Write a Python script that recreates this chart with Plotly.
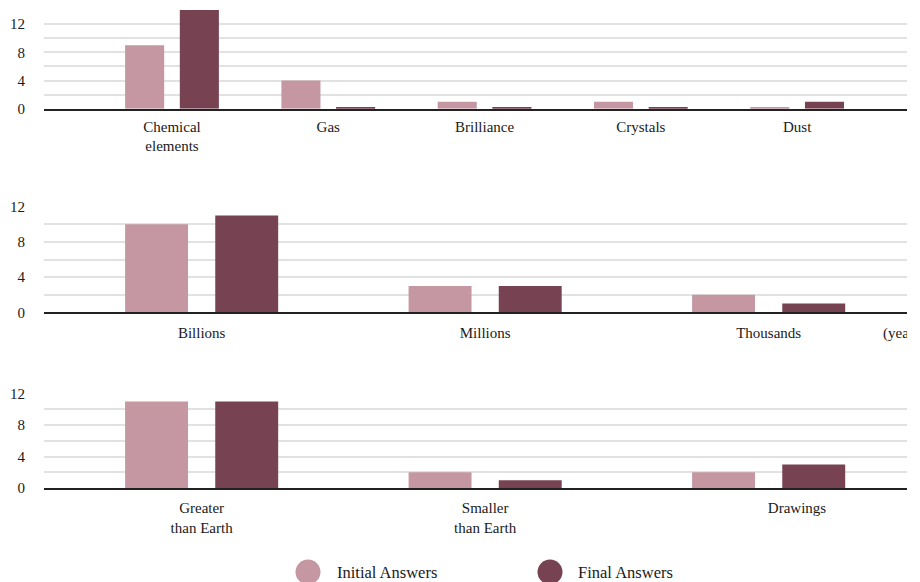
import plotly.graph_objects as go

# ---------------- data ----------------
series_names = ["Initial Answers", "Final Answers"]

composition_categories = ["Chemical\nelements", "Gas", "Brilliance", "Crystals", "Dust"]
composition_initial = [9, 4, 1, 1, 0.2]
composition_final = [14, 0.2, 0.2, 0.2, 1]

age_categories = ["Billions", "Millions", "Thousands"]
age_initial = [10, 3, 2]
age_final = [11, 3, 1]
age_unit_label = "(years)"

size_categories = ["Greater\nthan Earth", "Smaller\nthan Earth", "Drawings"]
size_initial = [11, 2, 2]
size_final = [11, 1, 3]

y_tick_step = 4
y_grid_step = 2

# ---------------- styling ----------------
C_INIT = "#C497A3"
C_FINAL = "#774353"
FONT = "Liberation Serif"
TXT = "#1a1a1a"
GRID = "#e2e2e2"

W, H = 907, 582
ML = 44
PW = W - ML


def py(p):
    return 1 - p / H


def pxx(p):
    return (p - ML) / PW


fig = go.Figure()

panels = [
    dict(cats=composition_categories, ini=composition_initial, fin=composition_final,
         xr=[-0.819, 4.703], yr=[0, 14], dom=[py(108.7), py(10)], width=0.25,
         offs=(-0.30, 0.05), shift=[0] * 5, stand=3),
    dict(cats=age_categories, ini=age_initial, fin=age_final,
         xr=[-0.556, 2.488], yr=[0, 12], dom=[py(312.3), py(206.7)], width=0.222,
         offs=(-0.27, 0.048), shift=[0, 0, 0], stand=6),
    dict(cats=size_categories, ini=size_initial, fin=size_final,
         xr=[-0.556, 2.488], yr=[0, 12], dom=[py(488), py(393.7)], width=0.222,
         offs=(-0.27, 0.048), shift=[0, 0, 0.1], stand=5),
]

for i, p in enumerate(panels):
    n = "" if i == 0 else str(i + 1)
    xs = list(range(len(p["cats"])))
    for vals, col, off, name in [(p["ini"], C_INIT, p["offs"][0], series_names[0]),
                                 (p["fin"], C_FINAL, p["offs"][1], series_names[1])]:
        fig.add_trace(go.Bar(x=xs, y=vals, name=name, marker=dict(color=col, line=dict(width=0)),
                             width=p["width"], offset=off, showlegend=False,
                             xaxis="x" + n, yaxis="y" + n))
    fig.update_layout(**{
        "xaxis" + n: dict(domain=[0, 1], anchor="y" + n, range=p["xr"],
                          tickvals=[x + s for x, s in zip(xs, p["shift"])],
                          ticktext=[c.replace("\n", "<br>") for c in p["cats"]],
                          showgrid=False, zeroline=False, showline=True,
                          linecolor="#222222", linewidth=2, ticks="",
                          ticklabelstandoff=p["stand"], automargin=False,
                          tickfont=dict(family=FONT, size=15, color=TXT)),
        "yaxis" + n: dict(domain=p["dom"], anchor="x" + n, range=p["yr"],
                          dtick=y_tick_step, tick0=0, showgrid=True, gridcolor=GRID,
                          gridwidth=1.5, zeroline=False, showline=False, ticks="",
                          ticklabelstandoff=18, automargin=False,
                          minor=dict(dtick=y_grid_step, showgrid=True, gridcolor=GRID,
                                     gridwidth=1.5),
                          tickfont=dict(family=FONT, size=15, color=TXT)),
    })

annotations = [
    dict(text=age_unit_label, xref="paper", yref="paper", x=pxx(881), y=py(333),
         xanchor="left", yanchor="middle", showarrow=False,
         font=dict(family=FONT, size=15, color=TXT)),
]
shapes = []
for name, col, cx, tx in [(series_names[0], C_INIT, 308, 335),
                          (series_names[1], C_FINAL, 550, 576)]:
    shapes.append(dict(type="circle", xref="paper", yref="paper",
                       xsizemode="pixel", ysizemode="pixel",
                       xanchor=pxx(cx), yanchor=py(572),
                       x0=-12.5, x1=12.5, y0=-12.5, y1=12.5,
                       fillcolor=col, line=dict(width=0)))
    annotations.append(dict(text=name, xref="paper", yref="paper", x=pxx(tx), y=py(572),
                            xanchor="left", yanchor="middle", showarrow=False,
                            font=dict(family=FONT, size=16.5, color=TXT)))

fig.update_layout(
    width=W, height=H, autosize=False, margin=dict(l=ML, r=0, t=0, b=0, autoexpand=False),
    paper_bgcolor="white", plot_bgcolor="white",
    barmode="overlay", showlegend=False,
    annotations=annotations, shapes=shapes,
    font=dict(family=FONT, color=TXT),
)

fig.write_html("out.html", config={"displayModeBar": False},
               post_script="document.body.style.margin='0';")
